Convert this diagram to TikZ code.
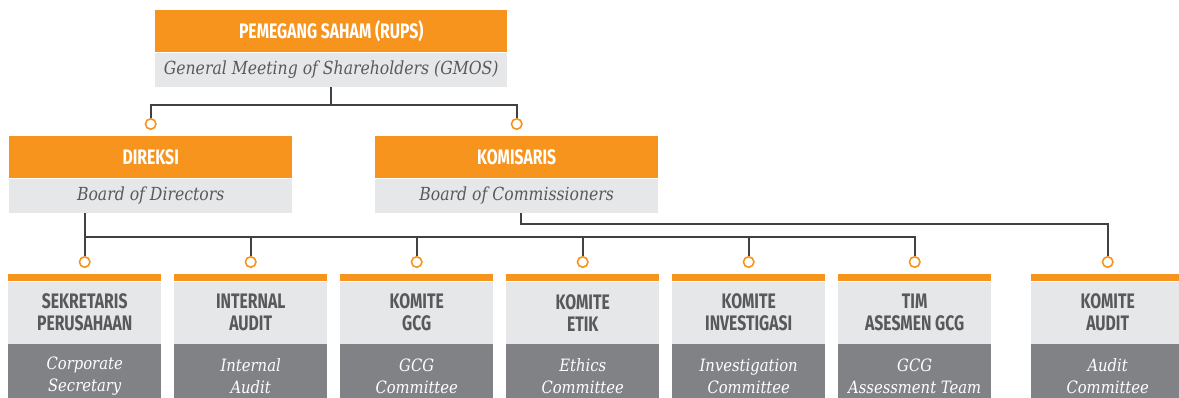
\documentclass[tikz,border=0pt]{standalone}
\usepackage{fontspec}
\usetikzlibrary{calc}
\newfontfamily\hfont{Fira Sans}[FakeStretch=0.75]
\newfontfamily\ifont{DejaVu Serif}[FakeStretch=0.87]
\definecolor{org}{HTML}{F7941D}
\definecolor{lgr}{HTML}{E6E7E8}
\definecolor{dgr}{HTML}{808285}
\definecolor{txt}{HTML}{58595B}
\definecolor{ln}{HTML}{414042}
\tikzset{
  hdr/.style={fill=org, text=white, inner sep=0pt, anchor=north west, minimum height=42pt,
     font=\hfont\bfseries\fontsize{21}{24}\selectfont},
  sub/.style={fill=lgr, text=txt, inner sep=0pt, anchor=north, minimum height=34pt,
     font=\ifont\itshape\fontsize{18}{20}\selectfont},
  strip/.style={fill=org, inner sep=0pt, anchor=north west, minimum width=153pt, minimum height=7pt},
  lbox/.style={fill=lgr, text=txt, inner sep=0pt, anchor=north, minimum width=153pt, minimum height=62pt,
     align=center, font=\hfont\bfseries\fontsize{21}{22}\selectfont},
  dbox/.style={fill=dgr, text=white, inner sep=0pt, anchor=north, minimum width=153pt, minimum height=64pt,
     align=center, font=\ifont\itshape\fontsize{17}{22}\selectfont},
  dot/.style={circle, draw=org, fill=white, line width=1.6pt, minimum size=10.5pt, inner sep=0pt},
  conn/.style={draw=ln, line width=1.8pt}
}
\begin{document}
\begin{tikzpicture}[x=1pt,y=-1pt]
\useasboundingbox (0,0) rectangle (1179,398);
% top
\node[hdr, minimum width=352pt] (rups) at (155,10) {PEMEGANG SAHAM (RUPS)};
\node[sub, minimum width=352pt] (gmos) at (rups.south) {General Meeting of Shareholders (GMOS)};
% level 2
\node[hdr, minimum width=283pt] (dir) at (9,136) {DIREKSI};
\node[sub, minimum width=283pt] (dirsub) at (dir.south) {Board of Directors};
\node[hdr, minimum width=283pt] (kom) at (375,136) {KOMISARIS};
\node[sub, minimum width=283pt] (komsub) at (kom.south) {Board of Commissioners};
% bottom boxes
\foreach \n/\x/\a/\b in {sek/8/{SEKRETARIS\\PERUSAHAAN}/{Corporate\\Secretary},
  int/174/{INTERNAL\\AUDIT}/{Internal\\Audit},
  gcg/340/{KOMITE\\GCG}/{GCG\\Committee},
  etk/506/{KOMITE\\ETIK}/{Ethics\\Committee},
  inv/672/{KOMITE\\INVESTIGASI}/{Investigation\\Committee},
  tim/838/{TIM\\ASESMEN GCG}/{GCG\\Assessment Team},
  aud/1031/{KOMITE\\AUDIT}/{Audit\\Committee}}{
  \node[strip] (s\n) at (\x,274) {};
  \node[lbox] (t\n) at (s\n.south) {\a};
  \node[dbox] (e\n) at (t\n.south) {\b};
  \node[dot] (c\n) at ($(s\n.north)+(0,-12)$) {};
}
% circles level 2
\node[dot] (cdir) at (dir.north |- 0,124) {};
\node[dot] (ckom) at (kom.north |- 0,124) {};
% connectors
\draw[conn] (gmos.south) -- ++(0,18) coordinate (jt) -| (cdir.north);
\draw[conn] (jt) -| (ckom.north);
\draw[conn] (dirsub.south -| csek.north) -- (csek.north);
\coordinate (bus) at (csek.north |- 0,237);
\draw[conn] (bus) -| (ctim.north);
\foreach \n in {int,gcg,etk,inv}{\draw[conn] (bus -| c\n.north) -- (c\n.north);}
\draw[conn] ([xshift=4pt]komsub.south) -- ++(0,11) -| (caud.north);
\end{tikzpicture}
\end{document}
